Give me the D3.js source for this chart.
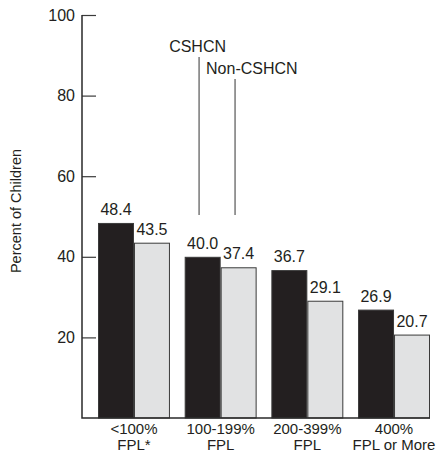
<!DOCTYPE html>
<html>
<head>
<meta charset="utf-8">
<script src="https://cdn.jsdelivr.net/npm/d3@7/dist/d3.min.js"></script>
<style>
  html, body { margin: 0; padding: 0; background: #fff; }
  svg { display: block; font-family: "Liberation Sans", Arial, Helvetica, sans-serif; }
</style>
</head>
<body>
<svg id="chart" width="441" height="456"></svg>
<script>
// Income groups (two-line labels) and percentages per group
const categories = ["<100%|FPL*", "100-199%|FPL", "200-399%|FPL", "400%|FPL or More"];
const seriesNames = ["CSHCN", "Non-CSHCN"];
const cshcnValues = [48.4, 40.0, 36.7, 26.9];
const nonCshcnValues = [43.5, 37.4, 29.1, 20.7];
const yTicks = [20, 40, 60, 80, 100];

const colors = { "CSHCN": "#231f20", "Non-CSHCN": "#e1e2e3" };
const ink = "#231f20";

const svg = d3.select("#chart");

const axisX = 82, plotRight = 430, plotTop = 15, plotBottom = 418;

const y = d3.scaleLinear().domain([0, 100]).range([plotBottom, plotTop]);

const x = d3.scaleBand()
  .domain(categories)
  .range([98, plotRight])
  .paddingInner(0.17)
  .paddingOuter(0);

const xSub = d3.scaleBand()
  .domain(seriesNames)
  .range([0, x.bandwidth()])
  .padding(0);

const rows = categories.map((c, i) => ({
  cat: c,
  values: [
    { key: "CSHCN", v: cshcnValues[i] },
    { key: "Non-CSHCN", v: nonCshcnValues[i] }
  ]
}));

// Bars
const groups = svg.append("g").selectAll("g")
  .data(rows)
  .join("g")
  .attr("transform", d => `translate(${x(d.cat)},0)`);

groups.selectAll("rect")
  .data(d => d.values)
  .join("rect")
  .attr("x", d => xSub(d.key) + 0.5)
  .attr("y", d => y(d.v) + 0.5)
  .attr("width", xSub.bandwidth() - 1)
  .attr("height", d => y(0) - y(d.v) - 0.5)
  .attr("fill", d => colors[d.key])
  .attr("stroke", "#3a3a3a")
  .attr("stroke-width", 1);

// Value labels
groups.selectAll("text.val")
  .data(d => d.values)
  .join("text")
  .attr("class", "val")
  .attr("x", d => xSub(d.key) + xSub.bandwidth() / 2)
  .attr("y", d => y(d.v) - 8)
  .attr("text-anchor", "middle")
  .attr("font-size", 16)
  .attr("fill", ink)
  .text(d => d.v.toFixed(1));

// Y axis with inward ticks
const yAxis = d3.axisLeft(y)
  .tickValues(yTicks)
  .tickSize(-14)
  .tickSizeOuter(0)
  .tickPadding(7)
  .tickFormat(d3.format("d"));

const yg = svg.append("g")
  .attr("transform", `translate(${axisX},0)`)
  .call(yAxis);
yg.select(".domain").remove();
yg.selectAll(".tick line").attr("stroke", "#3a3a3a").attr("stroke-width", 1.2);
yg.selectAll(".tick text")
  .attr("font-size", 16)
  .attr("fill", ink)
  .attr("font-family", "Liberation Sans, Arial, sans-serif");

// Axis lines
svg.append("path")
  .attr("d", `M${axisX},${y(100)}V${y(0)}H${plotRight}`)
  .attr("fill", "none")
  .attr("stroke", "#2a2a2a")
  .attr("stroke-width", 1.5);

// Category labels, one text per line
const labelLines = categories.flatMap(c =>
  c.split("|").map((t, i) => ({ cat: c, text: t, line: i }))
);
svg.append("g").selectAll("text")
  .data(labelLines)
  .join("text")
  .attr("x", d => x(d.cat) + x.bandwidth() / 2)
  .attr("y", d => plotBottom + 16 + d.line * 16)
  .attr("text-anchor", "middle")
  .attr("font-size", 15)
  .attr("fill", ink)
  .text(d => d.text);

// Y axis title
svg.append("text")
  .attr("transform", `translate(21,211) rotate(-90)`)
  .attr("text-anchor", "middle")
  .attr("font-size", 14.5)
  .attr("fill", ink)
  .text("Percent of Children");

// Series callouts pointing at the second group's bars
const calloutCat = categories[1];
const callouts = [
  { key: "CSHCN", top: 89.6, textY: 52 },
  { key: "Non-CSHCN", top: 84.1, textY: 73.5 }
];
const calloutBottom = 50.4;

callouts.forEach((c, i) => {
  const cx = x(calloutCat) + xSub(c.key) + xSub.bandwidth() * 0.4;
  svg.append("line")
    .attr("x1", cx).attr("x2", cx)
    .attr("y1", y(c.top)).attr("y2", y(calloutBottom))
    .attr("stroke", "#555")
    .attr("stroke-width", 1.2);
  svg.append("text")
    .attr("x", i === 0 ? cx - 1.5 : cx - 29)
    .attr("y", c.textY)
    .attr("text-anchor", i === 0 ? "middle" : "start")
    .attr("font-size", 16)
    .attr("fill", ink)
    .text(c.key);
});
</script>
</body>
</html>
